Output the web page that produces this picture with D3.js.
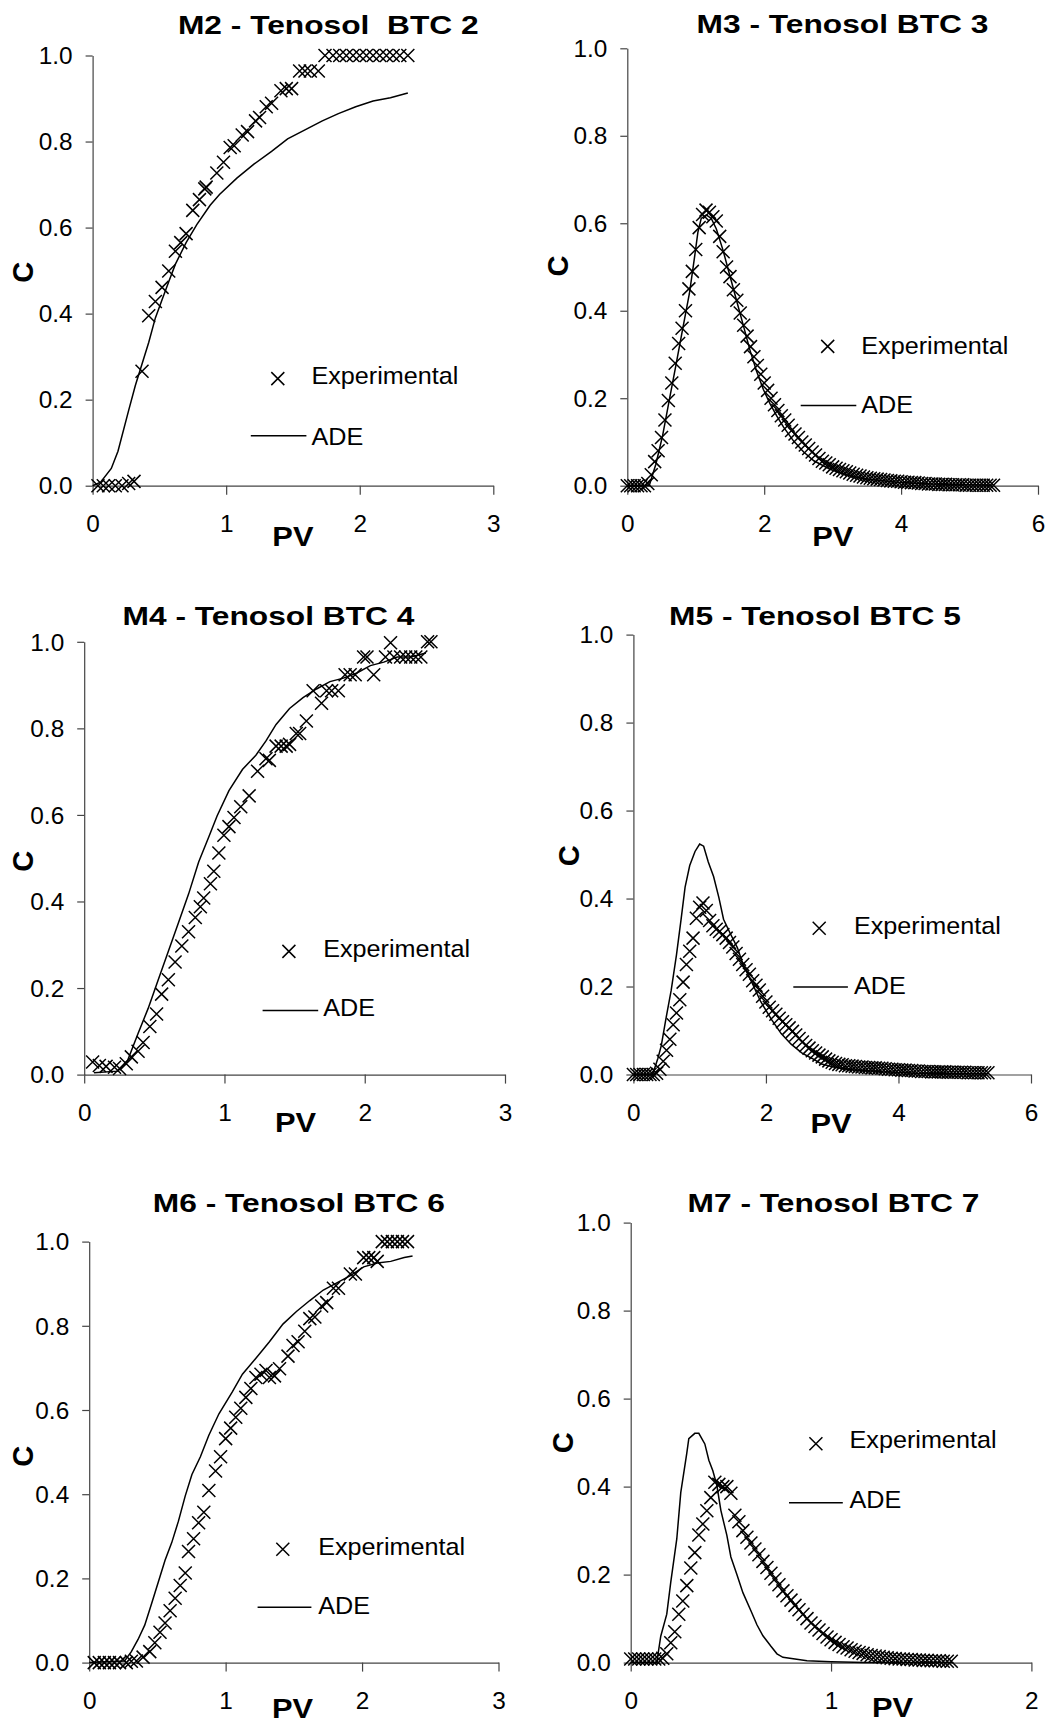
<!DOCTYPE html>
<html>
<head>
<meta charset="utf-8">
<script src="https://cdn.jsdelivr.net/npm/d3@7"></script>
<style>
  body { margin: 0; background: #fff; }
  svg text { font-family: "Liberation Sans", Arial, sans-serif; fill: #000; }
</style>
</head>
<body>
<div id="chart"></div>
<script>
// ---- data (PV, C) ----
const m2Exp = [[0.04,0],[0.08,0],[0.12,0],[0.17,0],[0.22,0],[0.27,0.005],[0.31,0.01],
  [0.37,0.266],[0.42,0.395],[0.47,0.428],[0.52,0.461],[0.57,0.499],[0.62,0.545],[0.66,0.565],
  [0.70,0.586],[0.75,0.64],[0.80,0.665],[0.84,0.69],[0.85,0.694],[0.93,0.727],[0.98,0.752],
  [1.03,0.786],[1.06,0.79],[1.12,0.815],[1.16,0.823],[1.22,0.848],[1.25,0.856],[1.30,0.881],
  [1.34,0.889],[1.41,0.918],[1.45,0.923],[1.49,0.923],[1.55,0.964],[1.59,0.964],[1.63,0.964],
  [1.69,0.964],[1.74,1],[1.80,1],[1.85,1],[1.90,1],[1.95,1],[2.00,1],[2.05,1],[2.10,1],
  [2.15,1],[2.20,1],[2.25,1],[2.30,1],[2.36,1]];
const m2Ade = [[0,0],[0.06,0.008],[0.14,0.04],[0.19,0.08],[0.27,0.175],[0.32,0.233],[0.37,0.283],
  [0.42,0.333],[0.47,0.39],[0.52,0.432],[0.57,0.474],[0.62,0.515],[0.70,0.565],[0.78,0.607],
  [0.88,0.652],[0.95,0.677],[1.08,0.715],[1.21,0.748],[1.34,0.777],[1.46,0.806],[1.59,0.827],
  [1.72,0.848],[1.84,0.865],[1.97,0.881],[2.10,0.894],[2.23,0.902],[2.36,0.913]];

const m3Exp = [[0,0],[0.05,0],[0.10,0],[0.15,0],[0.20,0],[0.25,0],[0.30,0.005],[0.35,0.025],
  [0.40,0.055],[0.45,0.08],[0.50,0.11],[0.55,0.15],[0.60,0.195],[0.65,0.235],[0.70,0.28],
  [0.75,0.325],[0.80,0.36],[0.85,0.40],[0.90,0.45],[0.95,0.49],[1.00,0.54],[1.05,0.59],
  [1.10,0.62],[1.15,0.63],[1.20,0.625],[1.25,0.615],[1.30,0.605],[1.35,0.57],[1.40,0.535],
  [1.45,0.50],[1.50,0.478],[1.55,0.448],[1.60,0.424],[1.65,0.395],[1.70,0.367],[1.75,0.342],
  [1.80,0.318],[1.85,0.295],[1.90,0.275],[1.95,0.255],[2.00,0.235],[2.05,0.218],[2.10,0.20],
  [2.15,0.185],[2.20,0.172],[2.25,0.16],[2.30,0.15],[2.35,0.138],[2.40,0.126],[2.45,0.118],
  [2.50,0.11],[2.55,0.10],[2.60,0.093],[2.65,0.085],[2.70,0.077],[2.75,0.07],[2.80,0.062],
  [2.85,0.056],[2.90,0.052],[2.95,0.048],[3.00,0.043],[3.05,0.04],[3.10,0.037],[3.15,0.034],
  [3.20,0.032],[3.25,0.029],[3.30,0.026],[3.35,0.024],[3.40,0.022],[3.45,0.02],[3.50,0.018],
  [3.55,0.017],[3.60,0.016],[3.65,0.015],[3.70,0.014],[3.75,0.013],[3.80,0.012],[3.85,0.011],
  [3.90,0.01],[3.95,0.01],[4.00,0.009],[4.05,0.008],[4.10,0.008],[4.15,0.007],[4.20,0.007],
  [4.25,0.006],[4.30,0.005],[4.35,0.005],[4.40,0.004],[4.45,0.004],[4.50,0.004],[4.55,0.003],
  [4.60,0.003],[4.65,0.003],[4.70,0.002],[4.75,0.002],[4.80,0.002],[4.85,0.002],[4.90,0.002],
  [4.95,0.001],[5.00,0.001],[5.05,0.001],[5.10,0.001],[5.15,0.001],[5.20,0.001],[5.25,0.001],
  [5.30,0.001],[5.35,0.001]];
const m3Ade = [[0,0],[0.32,0],[0.417,0.049],[0.515,0.114],[0.614,0.196],[0.712,0.277],[0.81,0.359],
  [0.908,0.44],[0.982,0.522],[1.031,0.579],[1.08,0.611],[1.154,0.619],[1.227,0.611],[1.301,0.587],
  [1.399,0.538],[1.497,0.481],[1.595,0.424],[1.694,0.367],[1.792,0.31],[1.89,0.261],[1.988,0.22],
  [2.086,0.187],[2.185,0.159],[2.283,0.134],[2.43,0.102],[2.577,0.077],[2.725,0.057],[2.97,0.037],
  [3.216,0.024],[3.461,0.016],[3.952,0.008],[4.443,0.004],[4.934,0.002],[5.327,0.001]];

const m4Exp = [[0.06,0.029],[0.108,0.021],[0.156,0.019],[0.216,0.017],[0.252,0.014],[0.30,0.025],
  [0.336,0.041],[0.384,0.054],[0.42,0.074],[0.468,0.111],[0.516,0.14],[0.552,0.186],[0.60,0.219],
  [0.648,0.26],[0.696,0.297],[0.744,0.33],[0.792,0.363],[0.828,0.388],[0.852,0.408],[0.90,0.441],
  [0.924,0.47],[0.96,0.512],[0.996,0.553],[1.032,0.573],[1.068,0.594],[1.116,0.619],[1.176,0.644],
  [1.236,0.701],[1.296,0.73],[1.32,0.726],[1.368,0.759],[1.404,0.759],[1.44,0.759],[1.464,0.763],
  [1.512,0.788],[1.536,0.788],[1.584,0.817],[1.632,0.887],[1.692,0.858],[1.728,0.887],[1.764,0.887],
  [1.812,0.887],[1.86,0.924],[1.896,0.924],[1.932,0.924],[1.992,0.965],[2.016,0.965],[2.064,0.924],
  [2.148,0.965],[2.184,0.998],[2.208,0.965],[2.256,0.965],[2.292,0.965],[2.328,0.965],[2.364,0.965],
  [2.40,0.965],[2.448,1.0],[2.472,1.0]];
const m4Ade = [[0.07,0.004],[0.24,0.008],[0.31,0.033],[0.384,0.095],[0.456,0.153],[0.528,0.219],
  [0.60,0.285],[0.672,0.351],[0.744,0.417],[0.816,0.491],[0.888,0.549],[0.948,0.598],[1.032,0.656],
  [1.128,0.705],[1.224,0.738],[1.296,0.771],[1.368,0.809],[1.464,0.846],[1.56,0.871],[1.656,0.891],
  [1.752,0.908],[1.848,0.916],[1.944,0.928],[2.04,0.945],[2.136,0.953],[2.232,0.965],[2.328,0.965],
  [2.436,0.974]];

const m5Exp = [[0,0],[0.05,0],[0.10,0],[0.15,0],[0.20,0],[0.25,0],[0.30,0],[0.35,0.003],[0.40,0.012],
  [0.45,0.03],[0.50,0.055],[0.55,0.08],[0.60,0.113],[0.65,0.14],[0.70,0.17],[0.75,0.21],[0.80,0.25],
  [0.85,0.28],[0.90,0.31],[0.95,0.355],[1.00,0.38],[1.05,0.39],[1.10,0.373],[1.15,0.35],[1.20,0.338],
  [1.25,0.33],[1.30,0.325],[1.35,0.318],[1.40,0.31],[1.45,0.30],[1.50,0.29],[1.55,0.275],[1.60,0.262],
  [1.65,0.25],[1.70,0.238],[1.75,0.228],[1.80,0.213],[1.85,0.203],[1.90,0.192],[1.95,0.178],
  [2.00,0.165],[2.05,0.153],[2.10,0.145],[2.15,0.137],[2.20,0.128],[2.25,0.12],[2.30,0.113],
  [2.35,0.106],[2.40,0.098],[2.45,0.09],[2.50,0.082],[2.55,0.074],[2.60,0.066],[2.65,0.06],
  [2.70,0.054],[2.75,0.049],[2.80,0.044],[2.85,0.04],[2.90,0.035],[2.95,0.031],[3.00,0.028],
  [3.05,0.025],[3.10,0.023],[3.15,0.022],[3.20,0.02],[3.25,0.02],[3.30,0.019],[3.35,0.018],
  [3.40,0.017],[3.45,0.017],[3.50,0.016],[3.55,0.016],[3.60,0.015],[3.65,0.015],[3.70,0.014],
  [3.75,0.014],[3.80,0.013],[3.85,0.012],[3.90,0.012],[3.95,0.011],[4.00,0.011],[4.05,0.01],
  [4.10,0.01],[4.15,0.009],[4.20,0.009],[4.25,0.008],[4.30,0.008],[4.35,0.007],[4.40,0.007],
  [4.45,0.007],[4.50,0.006],[4.55,0.006],[4.60,0.006],[4.65,0.006],[4.70,0.006],[4.75,0.005],
  [4.80,0.005],[4.85,0.005],[4.90,0.005],[4.95,0.005],[5.00,0.005],[5.05,0.004],[5.10,0.004],
  [5.15,0.004],[5.20,0.004],[5.25,0.004],[5.30,0.004],[5.35,0.004]];
const m5Ade = [[0,0],[0.29,0],[0.37,0.037],[0.42,0.065],[0.49,0.126],[0.57,0.191],[0.65,0.272],
  [0.72,0.353],[0.78,0.426],[0.85,0.475],[0.93,0.507],[1.00,0.524],[1.06,0.519],[1.13,0.483],
  [1.21,0.45],[1.29,0.402],[1.36,0.353],[1.46,0.321],[1.57,0.288],[1.66,0.248],[1.77,0.215],
  [1.92,0.166],[2.08,0.126],[2.23,0.093],[2.38,0.069],[2.54,0.049],[2.69,0.037],[2.84,0.024],
  [3.05,0.016],[3.30,0.011],[3.76,0.006],[4.27,0.003],[4.78,0.002],[5.34,0.001]];

const m6Exp = [[0.037,0],[0.074,0],[0.111,0],[0.148,0],[0.185,0],[0.222,0],[0.272,0],[0.309,0.003],
  [0.346,0.004],[0.395,0.013],[0.444,0.026],[0.481,0.047],[0.519,0.072],[0.556,0.094],[0.593,0.123],
  [0.63,0.153],[0.667,0.183],[0.704,0.213],[0.728,0.264],[0.765,0.294],[0.802,0.332],[0.84,0.357],
  [0.877,0.409],[0.926,0.455],[0.963,0.489],[1.0,0.532],[1.037,0.557],[1.074,0.583],[1.111,0.604],
  [1.148,0.63],[1.185,0.651],[1.222,0.677],[1.259,0.685],[1.296,0.694],[1.321,0.677],[1.358,0.681],
  [1.395,0.698],[1.457,0.728],[1.494,0.753],[1.531,0.762],[1.58,0.787],[1.617,0.817],[1.654,0.821],
  [1.704,0.847],[1.741,0.855],[1.79,0.889],[1.827,0.889],[1.914,0.923],[1.951,0.923],[2.012,0.962],
  [2.049,0.962],[2.086,0.962],[2.111,0.953],[2.148,1],[2.185,1],[2.222,1],[2.259,1],[2.296,1],[2.333,1]];
const m6Ade = [[0,0],[0.259,0.004],[0.309,0.026],[0.358,0.055],[0.407,0.089],[0.457,0.14],[0.506,0.191],
  [0.556,0.243],[0.605,0.285],[0.654,0.336],[0.704,0.396],[0.753,0.447],[0.815,0.489],[0.877,0.54],
  [0.951,0.591],[1.049,0.643],[1.123,0.685],[1.222,0.723],[1.321,0.762],[1.42,0.804],[1.519,0.834],
  [1.617,0.86],[1.716,0.885],[1.815,0.902],[1.914,0.919],[2.012,0.94],[2.111,0.949],[2.21,0.953],
  [2.309,0.962],[2.37,0.966]];

const m7Exp = [[0,0.008],[0.02,0.008],[0.04,0.008],[0.06,0.008],[0.08,0.008],[0.10,0.008],[0.12,0.008],
  [0.14,0.008],[0.16,0.01],[0.18,0.02],[0.20,0.045],[0.22,0.07],[0.24,0.11],[0.26,0.14],[0.28,0.175],
  [0.30,0.215],[0.32,0.25],[0.34,0.29],[0.36,0.315],[0.38,0.345],[0.40,0.375],[0.42,0.41],[0.44,0.405],
  [0.46,0.40],[0.48,0.40],[0.50,0.385],[0.52,0.335],[0.54,0.32],[0.56,0.30],[0.58,0.285],[0.60,0.272],
  [0.62,0.258],[0.64,0.245],[0.66,0.23],[0.68,0.216],[0.70,0.203],[0.72,0.19],[0.74,0.177],[0.76,0.163],
  [0.78,0.152],[0.80,0.142],[0.82,0.13],[0.84,0.12],[0.86,0.11],[0.88,0.10],[0.90,0.09],[0.92,0.082],
  [0.94,0.074],[0.96,0.066],[0.98,0.058],[1.00,0.052],[1.02,0.046],[1.04,0.041],[1.06,0.036],
  [1.08,0.033],[1.10,0.029],[1.12,0.026],[1.14,0.023],[1.16,0.021],[1.18,0.018],[1.20,0.016],
  [1.22,0.015],[1.24,0.014],[1.26,0.012],[1.28,0.011],[1.30,0.01],[1.32,0.009],[1.34,0.008],
  [1.36,0.008],[1.38,0.007],[1.40,0.007],[1.42,0.006],[1.44,0.006],[1.46,0.005],[1.48,0.005],
  [1.50,0.004],[1.52,0.004],[1.54,0.004],[1.56,0.003],[1.58,0.003],[1.60,0.003]];
const m7Ade = [[0,0],[0.13,0],[0.15,0.06],[0.18,0.11],[0.20,0.183],[0.23,0.281],[0.25,0.387],
  [0.28,0.476],[0.29,0.509],[0.32,0.521],[0.34,0.521],[0.37,0.497],[0.39,0.46],[0.41,0.436],
  [0.43,0.403],[0.45,0.346],[0.48,0.289],[0.50,0.24],[0.53,0.2],[0.56,0.159],[0.60,0.118],
  [0.63,0.086],[0.66,0.061],[0.70,0.037],[0.73,0.02],[0.76,0.012],[0.82,0.008],[0.88,0.004],
  [1.00,0.002],[1.17,0.0005],[1.34,0],[1.50,0],[1.61,0]];

const titles = ["M2 - Tenosol  BTC 2", "M3 - Tenosol BTC 3", "M4 - Tenosol BTC 4",
                "M5 - Tenosol BTC 5", "M6 - Tenosol BTC 6", "M7 - Tenosol BTC 7"];
const yTickValues = [0, 0.2, 0.4, 0.6, 0.8, 1.0];
const xTickSets = [[0,1,2,3], [0,2,4,6], [0,1,2,3], [0,2,4,6], [0,1,2,3], [0,1,2]];
const expSeries = [m2Exp, m3Exp, m4Exp, m5Exp, m6Exp, m7Exp];
const adeSeries = [m2Ade, m3Ade, m4Ade, m5Ade, m6Ade, m7Ade];
const legendLabels = ["Experimental", "ADE"];

// ---- layout of each panel (pixels) ----
const layout = [
  {x0: 92.6, x1: 493.3, yTop: 55.5, yBot: 485.7, tx: 328.3, ty: 34, cx: 22.7, cy: 272.3, px: 292.9, py: 546.4,
   mx: 277.8, my: 378.6, lt: 311.4, ly1: 384, lx0: 250.8, lx1: 306.4, ly: 435.7, ly2: 444.6},
  {x0: 627.3, x1: 1038, yTop: 48.3, yBot: 485.7, tx: 842.5, ty: 33.3, cx: 557.5, cy: 266, px: 832.7, py: 546.4,
   mx: 827.7, my: 346.4, lt: 861.3, ly1: 353.6, lx0: 800.7, lx1: 856.3, ly: 405.4, ly2: 412.5},
  {x0: 84.2, x1: 505, yTop: 641.8, yBot: 1074.6, tx: 268.5, ty: 624.6, cx: 22.7, cy: 861.3, px: 295.5, py: 1131.8,
   mx: 288.9, my: 951.4, lt: 323.2, ly1: 956.8, lx0: 262.6, lx1: 318.2, ly: 1010.4, ly2: 1016.4},
  {x0: 633.4, x1: 1031, yTop: 634.6, yBot: 1074.5, tx: 815, ty: 624.6, cx: 569.2, cy: 855.9, px: 831, py: 1133,
   mx: 819.2, my: 928.2, lt: 853.9, ly1: 933.6, lx0: 793.3, lx1: 847.9, ly: 987.1, ly2: 994.3},
  {x0: 89.2, x1: 498.5, yTop: 1241.6, yBot: 1662.6, tx: 298.8, ty: 1212, cx: 22.7, cy: 1456.2, px: 292.5, py: 1718,
   mx: 282.8, my: 1549.2, lt: 318.2, ly1: 1554.6, lx0: 257.6, lx1: 311.4, ly: 1607.2, ly2: 1613.6},
  {x0: 630.7, x1: 1031.4, yTop: 1222.6, yBot: 1662.6, tx: 833.5, ty: 1212, cx: 562.5, cy: 1442.8, px: 892.5, py: 1717.4,
   mx: 815.9, my: 1443.7, lt: 849.5, ly1: 1448.4, lx0: 789, lx1: 842.8, ly: 1502.7, ly2: 1508.1}
];

const width = 1056, height = 1731;
const svg = d3.select('#chart').append('svg')
    .attr('width', width)
    .attr('height', height);

// text with a slight horizontal stretch, like the reference lettering
function addText(g, str, x, y, size, sx, weight, anchor) {
    return g.append('text')
        .attr('transform', 'translate(' + x + ',' + y + ') scale(' + sx + ',1)')
        .attr('text-anchor', anchor || 'start')
        .attr('font-size', size)
        .attr('font-weight', weight || 'normal')
        .style('white-space', 'pre')
        .text(str);
}

function cross(g, x, y, r) {
    g.append('path')
        .attr('d', 'M' + (x - r) + ',' + (y - r) + 'L' + (x + r) + ',' + (y + r) +
                   'M' + (x - r) + ',' + (y + r) + 'L' + (x + r) + ',' + (y - r))
        .attr('stroke', '#000')
        .attr('stroke-width', 1.5)
        .attr('fill', 'none');
}

layout.forEach(function(L, i) {
    const xTicks = xTickSets[i];
    const x = d3.scaleLinear().domain([0, xTicks[xTicks.length - 1]]).range([L.x0, L.x1]);
    const y = d3.scaleLinear().domain([0, 1]).range([L.yBot, L.yTop]);
    const g = svg.append('g');

    // axes
    const yAxis = g.append('g')
        .attr('transform', 'translate(' + L.x0 + ',0)')
        .call(d3.axisLeft(y).tickValues(yTickValues).tickFormat(d3.format('.1f')).tickSizeInner(7).tickSizeOuter(0));
    yAxis.selectAll('text')
        .attr('x', null).attr('dy', null)
        .attr('transform', 'translate(-20,8.2) scale(1.06,1)')
        .attr('font-size', 23);

    const xAxis = g.append('g')
        .attr('transform', 'translate(0,' + L.yBot + ')')
        .call(d3.axisBottom(x).tickValues(xTicks).tickFormat(d3.format('d')).tickSizeInner(9).tickSizeOuter(0));
    xAxis.selectAll('text')
        .attr('y', null).attr('dy', null)
        .attr('transform', 'translate(0,46) scale(1.06,1)')
        .attr('font-size', 23);

    [yAxis, xAxis].forEach(function(a) {
        a.attr('font-family', null);
        a.selectAll('path, line').attr('stroke', '#444').attr('stroke-width', 1.2);
    });

    // model line
    const line = d3.line().x(d => x(d[0])).y(d => y(d[1]));
    g.append('path')
        .datum(adeSeries[i])
        .attr('d', line)
        .attr('fill', 'none')
        .attr('stroke', '#000')
        .attr('stroke-width', 1.5);

    // experimental points
    const pts = g.append('g');
    expSeries[i].forEach(function(d) {
        cross(pts, x(d[0]), y(d[1]), 6.5);
    });

    // titles
    addText(g, titles[i], L.tx, L.ty, 26, 1.22, 'bold', 'middle');
    addText(g, 'PV', L.px, L.py, 28, 1.1, 'bold', 'middle');
    g.append('text')
        .attr('transform', 'translate(' + L.cx + ',' + L.cy + ') rotate(-90)')
        .attr('text-anchor', 'middle')
        .attr('dominant-baseline', 'central')
        .attr('font-size', 29)
        .attr('font-weight', 'bold')
        .text('C');

    // legend
    cross(g, L.mx, L.my, 6.5);
    addText(g, legendLabels[0], L.lt, L.ly1, 24, 1.05);
    g.append('line')
        .attr('x1', L.lx0).attr('x2', L.lx1)
        .attr('y1', L.ly).attr('y2', L.ly)
        .attr('stroke', '#000').attr('stroke-width', 1.5);
    addText(g, legendLabels[1], L.lt, L.ly2, 24, 1.05);
});
</script>
</body>
</html>
